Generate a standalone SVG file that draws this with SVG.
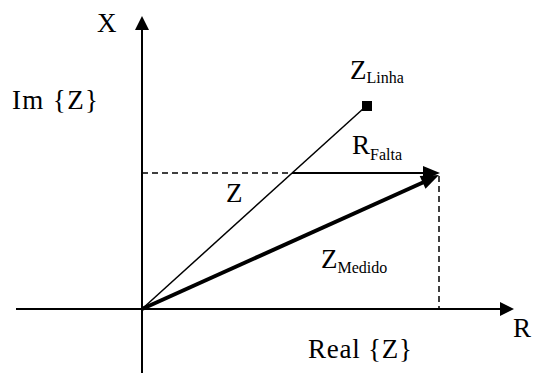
<svg xmlns="http://www.w3.org/2000/svg" width="533" height="373" viewBox="0 0 533 373">
<style>
.s{font-size:16px}
.ln{stroke:#000;fill:none}
.d{stroke-dasharray:6 4}
</style>
<rect width="533" height="373" fill="#fff"/>
<g id="connectors">
<line class="ln" x1="142" y1="373" x2="142" y2="28" stroke-width="2"/>
<polygon points="142,16 135,30 149,30"/>
<line class="ln" x1="16" y1="309" x2="502" y2="309" stroke-width="2"/>
<polygon points="514,309 500,302 500,316"/>
<line class="ln d" x1="142" y1="173" x2="292" y2="173" stroke-width="1.5"/>
<line class="ln d" x1="439" y1="176" x2="439" y2="309" stroke-width="1.5"/>
<line class="ln" x1="142" y1="309" x2="364" y2="108" stroke-width="1.5"/>
<line class="ln" x1="292" y1="173" x2="425" y2="173" stroke-width="2"/>
<polygon points="440,173 423,166 423,180"/>
<line class="ln" x1="142" y1="309" x2="424" y2="182" stroke-width="4"/>
<polygon points="439,175 425.5,188.8 419.7,176"/>
</g>
<g id="zlinha-point"><rect x="362" y="101" width="10" height="10"/></g>
<g id="labels" font-family="Liberation Serif" font-size="27" fill="#000">
<text x="97" y="32">X</text>
<text x="12" y="109" textLength="86">Im {Z}</text>
<text x="350" y="79">Z<tspan class="s" y="83">Linha</tspan></text>
<text x="352" y="154">R<tspan class="s" y="160">Falta</tspan></text>
<text x="226" y="202">Z</text>
<text x="321" y="268">Z<tspan class="s" y="273">Medido</tspan></text>
<text x="513" y="337">R</text>
<text x="308" y="358" textLength="104">Real {Z}</text>
</g>
</svg>
